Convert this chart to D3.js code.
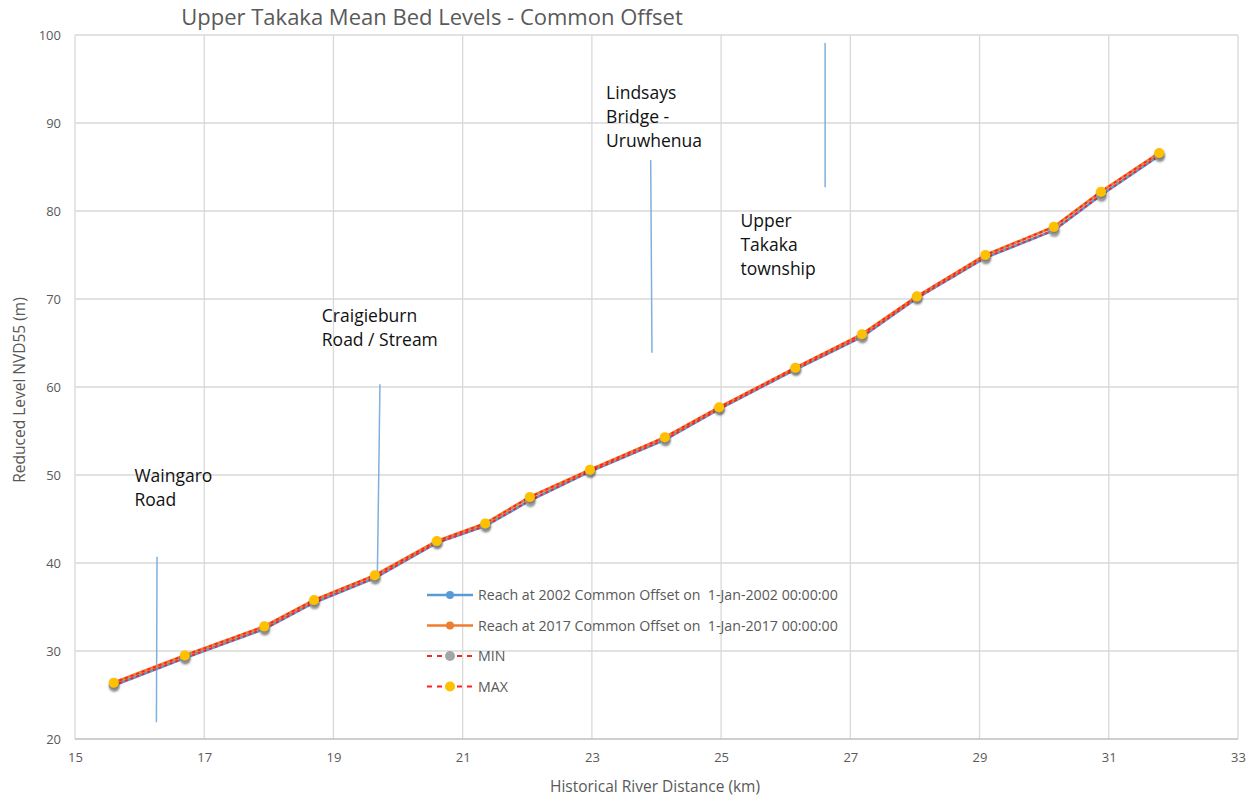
<!DOCTYPE html>
<html lang="en">
<head>
<meta charset="utf-8">
<title>Upper Takaka Mean Bed Levels</title>
<script src="https://cdn.jsdelivr.net/npm/d3@7"></script>
<style>
  body { margin: 0; background: #fff; }
  text { font-family: "Open Sans", "Liberation Sans", sans-serif; white-space: pre; }
</style>
</head>
<body>
<script>
// distances (km) along the reach
var distance = [15.60, 16.70, 17.93, 18.70, 19.64, 20.60, 21.35, 22.04, 22.97, 24.13, 24.97, 26.15, 27.18, 28.03, 29.09, 30.15, 30.88, 31.78];
// bed levels (m)
var level2002 = [26.1, 29.2, 32.5, 35.5, 38.3, 42.3, 44.2, 47.1, 50.4, 54.0, 57.5, 62.0, 65.7, 70.1, 74.7, 77.8, 81.8, 86.3];
var level2017 = [26.4, 29.5, 32.8, 35.8, 38.6, 42.5, 44.5, 47.5, 50.6, 54.3, 57.7, 62.2, 66.0, 70.3, 75.0, 78.2, 82.2, 86.6];
var levelMin = [26.1, 29.2, 32.5, 35.5, 38.3, 42.3, 44.2, 47.1, 50.4, 54.0, 57.5, 62.0, 65.7, 70.1, 74.7, 77.8, 81.8, 86.3];
var levelMax = [26.4, 29.5, 32.8, 35.8, 38.6, 42.5, 44.5, 47.5, 50.6, 54.3, 57.7, 62.2, 66.0, 70.3, 75.0, 78.2, 82.2, 86.6];

var xTicks = [15, 17, 19, 21, 23, 25, 27, 29, 31, 33];
var yTicks = [20, 30, 40, 50, 60, 70, 80, 90, 100];

// place markers: [x top, y top, x bottom, y bottom]
var markerLines = [[16.27, 40.7, 16.26, 21.9], [19.72, 60.3, 19.68, 38.6], [23.91, 85.8, 23.93, 63.9], [26.61, 99.1, 26.61, 82.7]];
var placeNames = [["Waingaro", "Road"], ["Craigieburn", "Road / Stream"], ["Lindsays", "Bridge -", "Uruwhenua"], ["Upper", "Takaka", "township"]];
var placeAt = [[15.92, 49.2], [18.82, 67.4], [23.22, 92.7], [25.30, 78.2]];

var legendNames = ["Reach at 2002 Common Offset on  1-Jan-2002 00:00:00", "Reach at 2017 Common Offset on  1-Jan-2017 00:00:00", "MIN", "MAX"];

var w = 1249, h = 800;
var margin = {top: 35, right: 11, bottom: 61, left: 75};

var svg = d3.select("body").append("svg").attr("width", w).attr("height", h);

var x = d3.scaleLinear().domain([15, 33]).range([margin.left, w - margin.right]);
var y = d3.scaleLinear().domain([20, 100]).range([h - margin.bottom, margin.top]);

// gridlines
svg.append("g").selectAll("line").data(xTicks).enter().append("line")
  .attr("x1", function(d) { return x(d); }).attr("x2", function(d) { return x(d); })
  .attr("y1", y(20)).attr("y2", y(100))
  .attr("stroke", "#d9d9d9").attr("stroke-width", 1.3);
svg.append("g").selectAll("line").data(yTicks).enter().append("line")
  .attr("x1", x(15)).attr("x2", x(33))
  .attr("y1", function(d) { return y(d); }).attr("y2", function(d) { return y(d); })
  .attr("stroke", function(d) { return d == 20 ? "#bfbfbf" : "#d9d9d9"; }).attr("stroke-width", 1.3);

// axes (labels only, Excel-style)
var xAxis = svg.append("g").attr("transform", "translate(0," + y(20) + ")")
  .call(d3.axisBottom(x).tickValues(xTicks).tickSize(0).tickPadding(14));
var yAxis = svg.append("g").attr("transform", "translate(" + x(15) + ",0)")
  .call(d3.axisLeft(y).tickValues(yTicks).tickSize(0).tickPadding(14));
[xAxis, yAxis].forEach(function(a) {
  a.select(".domain").remove();
  a.selectAll("text").attr("fill", "#595959").style("font-size", "13px")
    .style("font-family", "'Open Sans', 'Liberation Sans', sans-serif");
});

// title + axis titles
svg.append("text").attr("x", 432).attr("y", 25).attr("text-anchor", "middle")
  .attr("fill", "#595959").style("font-size", "22px").text("Upper Takaka Mean Bed Levels - Common Offset");
svg.append("text").attr("x", 655).attr("y", 792).attr("text-anchor", "middle")
  .attr("fill", "#595959").style("font-size", "15.5px").text("Historical River Distance (km)");
svg.append("text").attr("transform", "translate(25,390) rotate(-90)").attr("text-anchor", "middle")
  .attr("fill", "#595959").style("font-size", "15.5px").text("Reduced Level NVD55 (m)");

// place marker lines
svg.append("g").selectAll("line").data(markerLines).enter().append("line")
  .attr("x1", function(d) { return x(d[0]); }).attr("y1", function(d) { return y(d[1]); })
  .attr("x2", function(d) { return x(d[2]); }).attr("y2", function(d) { return y(d[3]); })
  .attr("stroke", "#7fb0e0").attr("stroke-width", 1.5);

// place names
placeNames.forEach(function(lines, i) {
  var t = svg.append("text").attr("x", x(placeAt[i][0])).attr("y", y(placeAt[i][1]))
    .attr("fill", "#111").style("font-size", "17.5px");
  t.selectAll("tspan").data(lines).enter().append("tspan")
    .attr("x", x(placeAt[i][0])).attr("dy", function(d, j) { return j == 0 ? 0 : 24; })
    .text(function(d) { return d; });
});

var defs = svg.append("defs");
var f = defs.append("filter").attr("id", "shadow").attr("x", "-50%").attr("y", "-50%").attr("width", "200%").attr("height", "200%");
f.append("feDropShadow").attr("dx", 0.5).attr("dy", 1.5).attr("stdDeviation", 1).attr("flood-color", "#000").attr("flood-opacity", 0.35);

function lineFor(vals) {
  return d3.line().x(function(d, i) { return x(distance[i]); }).y(function(d) { return y(d); })(vals);
}

var series = [
  {vals: level2002, line: "#5b9bd5", dash: null, mark: "#5b9bd5", r: 4, sw: 2.8},
  {vals: level2017, line: "#ed7d31", dash: null, mark: "#ed7d31", r: 4, sw: 2.8},
  {vals: levelMin, line: "#ff2020", dash: "3,3", mark: "#a5a5a5", r: 5, sw: 1.8},
  {vals: levelMax, line: "#ff2020", dash: "3,3", mark: "#ffc000", r: 5, sw: 1.8}
];

series.forEach(function(s) {
  svg.append("path").attr("d", lineFor(s.vals)).attr("fill", "none")
    .attr("stroke", s.line).attr("stroke-width", s.sw)
    .attr("stroke-dasharray", s.dash);
});
series.forEach(function(s) {
  svg.append("g").selectAll("circle").data(s.vals).enter().append("circle")
    .attr("cx", function(d, i) { return x(distance[i]); })
    .attr("cy", function(d) { return y(d); })
    .attr("r", s.r).attr("fill", s.mark).attr("filter", "url(#shadow)");
});

// legend
var lg = svg.append("g").attr("transform", "translate(427,595)");
series.forEach(function(s, i) {
  var row = lg.append("g").attr("transform", "translate(0," + (i * 30.5) + ")");
  row.append("line").attr("x1", 0).attr("x2", 46).attr("y1", 0).attr("y2", 0)
    .attr("stroke", s.line).attr("stroke-width", s.dash ? 1.8 : 2.5)
    .attr("stroke-dasharray", s.dash ? "5,5" : null);
  row.append("circle").attr("cx", 23).attr("cy", 0).attr("r", s.r).attr("fill", s.mark);
  row.append("text").attr("x", 51).attr("y", 5).attr("fill", "#595959")
    .style("font-size", "14.2px").text(legendNames[i]);
});
</script>
</body>
</html>
